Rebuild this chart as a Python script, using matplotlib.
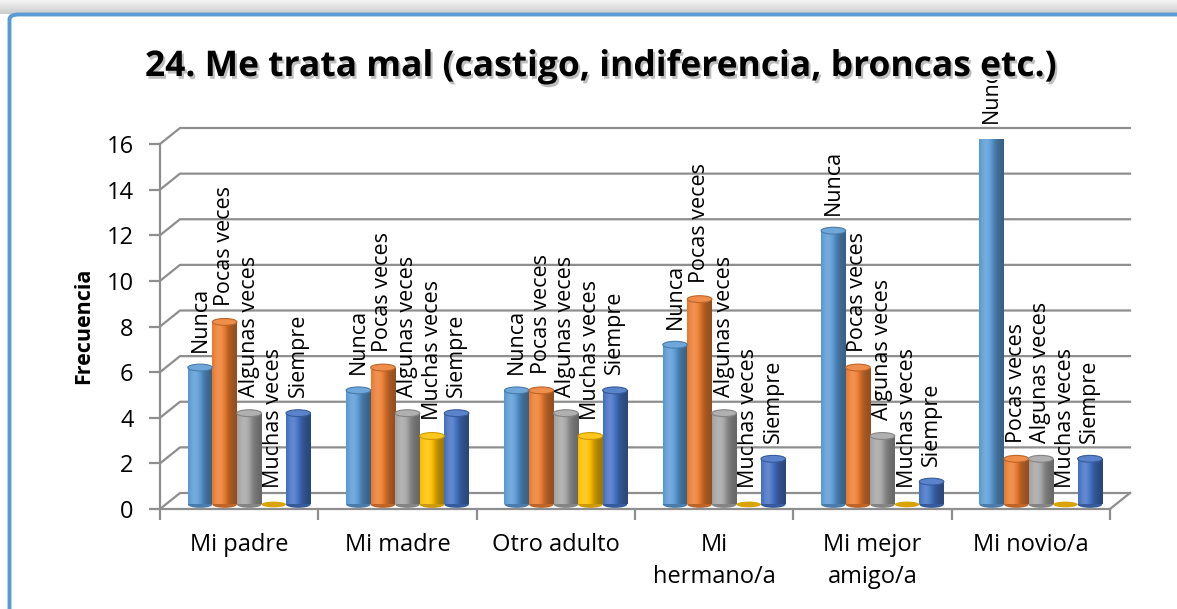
import numpy as np
import matplotlib.pyplot as plt
from matplotlib.patches import Rectangle, Ellipse, FancyBboxPatch
from matplotlib.transforms import Bbox, TransformedBbox
import matplotlib.colors as mcolors
import matplotlib.patheffects as pe

plt.rcParams['font.family'] = ['Open Sans', 'DejaVu Sans']

categories = ['Mi padre', 'Mi madre', 'Otro adulto', 'Mi\nhermano/a',
              'Mi mejor\namigo/a', 'Mi novio/a']
series = ['Nunca', 'Pocas veces', 'Algunas veces', 'Muchas veces', 'Siempre']
nunca = [6, 5, 5, 7, 12, 16]
pocas = [8, 6, 5, 9, 6, 2]
algunas = [4, 4, 4, 4, 3, 2]
muchas = [0, 3, 3, 0, 0, 0]
siempre = [4, 4, 5, 2, 1, 2]
colors = ['#5B9BD5', '#ED7D31', '#A5A5A5', '#FFC000', '#4472C4']
title = '24. Me trata mal (castigo, indiferencia, broncas etc.)'

W, H = 1177, 609
fig = plt.figure(figsize=(W / 100, H / 100), dpi=100)

# top shadow strip + frame
sax = fig.add_axes([0, 1 - 14 / H, 1, 14 / H])
grad = np.linspace(0.96, 0.80, 20)
sax.imshow(np.repeat(grad[:, None], 3, axis=1)[:, None, :],
           aspect='auto', extent=(0, 1, 0, 1))
sax.axis('off')
frame = FancyBboxPatch((9.5 / W, -0.1), 1.2, 1 - 14.5 / H + 0.1,
                       boxstyle='round,pad=0,rounding_size=0.008',
                       transform=fig.transFigure, facecolor='none',
                       edgecolor='#5B9BD5', lw=2.8, zorder=10)
fig.add_artist(frame)

ax = fig.add_axes([160 / W, 100 / H, 950 / W, 365 / H])
ax.patch.set_alpha(0)
gc = '#8E8E8E'
DX = 20 / (950 / 6)
DY = 16 / (365 / 16)
BW = 0.155
BASE = 0.2

for v in range(0, 17, 2):
    ax.plot([-0.5, -0.5 + DX, 5.5 + DX], [v, v + DY, v + DY], color=gc,
            lw=1.6, clip_on=False, zorder=1)
ax.plot([5.5, 5.5 + DX], [0, DY], color=gc, lw=1.6, clip_on=False, zorder=1)

for s in ['top', 'right']:
    ax.spines[s].set_visible(False)
for s in ['left', 'bottom']:
    ax.spines[s].set_color(gc)
    ax.spines[s].set_linewidth(1.6)

ax.set_yticks(range(0, 17, 2))
ax.tick_params(axis='y', length=8, width=1.6, color=gc, pad=11, labelsize=17)
ax.set_xticks(range(6))
ax.set_xticklabels(categories, linespacing=1.45)
ax.set_xticks(np.arange(-0.5, 6, 1), minor=True)
ax.tick_params(axis='x', which='major', length=0, pad=17, labelsize=17)
ax.tick_params(axis='x', which='minor', length=8, width=1.6, color=gc)

label_clip = TransformedBbox(Bbox([[0, 0], [1, 1 - 80 / H]]), fig.transFigure)


def shade(c):
    base = np.array(mcolors.to_rgb(c))
    t = np.linspace(0, 1, 64)
    f = 0.82 + 0.4 * np.exp(-((t - 0.3) / 0.3) ** 2) - 0.2 * t
    out = np.empty((64, 3))
    for k, fk in enumerate(f):
        if fk > 1:
            out[k] = base + (1 - base) * (fk - 1)
        else:
            out[k] = base * fk
    return np.clip(out, 0, 1)[None, :, :]


data = [nunca, pocas, algunas, muchas, siempre]
for j, vals in enumerate(data):
    base = np.array(mcolors.to_rgb(colors[j]))
    img = shade(colors[j])
    for i, v in enumerate(vals):
        xc = i + DX / 2 + (j - 2) * BW
        if v > 0:
            ax.add_patch(Ellipse((xc, BASE), BW, 0.3, facecolor=base * 0.8,
                                 edgecolor='none', zorder=2))
            rect = Rectangle((xc - BW / 2, BASE), BW, v, facecolor='none',
                             edgecolor='none', zorder=3)
            ax.add_patch(rect)
            im = ax.imshow(img, extent=(xc - BW / 2, xc + BW / 2, BASE, BASE + v),
                           aspect='auto', zorder=3, interpolation='bilinear')
            im.set_clip_path(rect)
            ax.add_patch(Ellipse((xc, BASE + v), BW, 0.3,
                                 facecolor=base + (1 - base) * 0.12,
                                 edgecolor=base * 0.8, lw=0.8, zorder=4))
        else:
            ax.add_patch(Ellipse((xc, BASE), BW, 0.25, facecolor=base * 0.85,
                                 edgecolor='none', zorder=4))
        t = ax.text(xc, BASE + v + 0.7, series[j], rotation=90, ha='center',
                    va='bottom', fontsize=15.5, zorder=6)
        t.set_clip_box(label_clip)
        t.set_clip_on(True)

ax.set_xlim(-0.5, 5.5)
ax.set_ylim(0, 16)

fig.text(84 / W, 1 - 326 / H, 'Frecuencia', rotation=90, ha='center',
         va='center', fontsize=15.5, fontweight='bold')
fig.text(600 / W, 1 - 76 / H, title, ha='center', va='baseline', fontsize=25.5,
         fontweight='bold', zorder=12,
         path_effects=[pe.withSimplePatchShadow(offset=(1.5, -2),
                                                shadow_rgbFace='#707070',
                                                alpha=0.45)])

fig.savefig('out.png', dpi=100)
